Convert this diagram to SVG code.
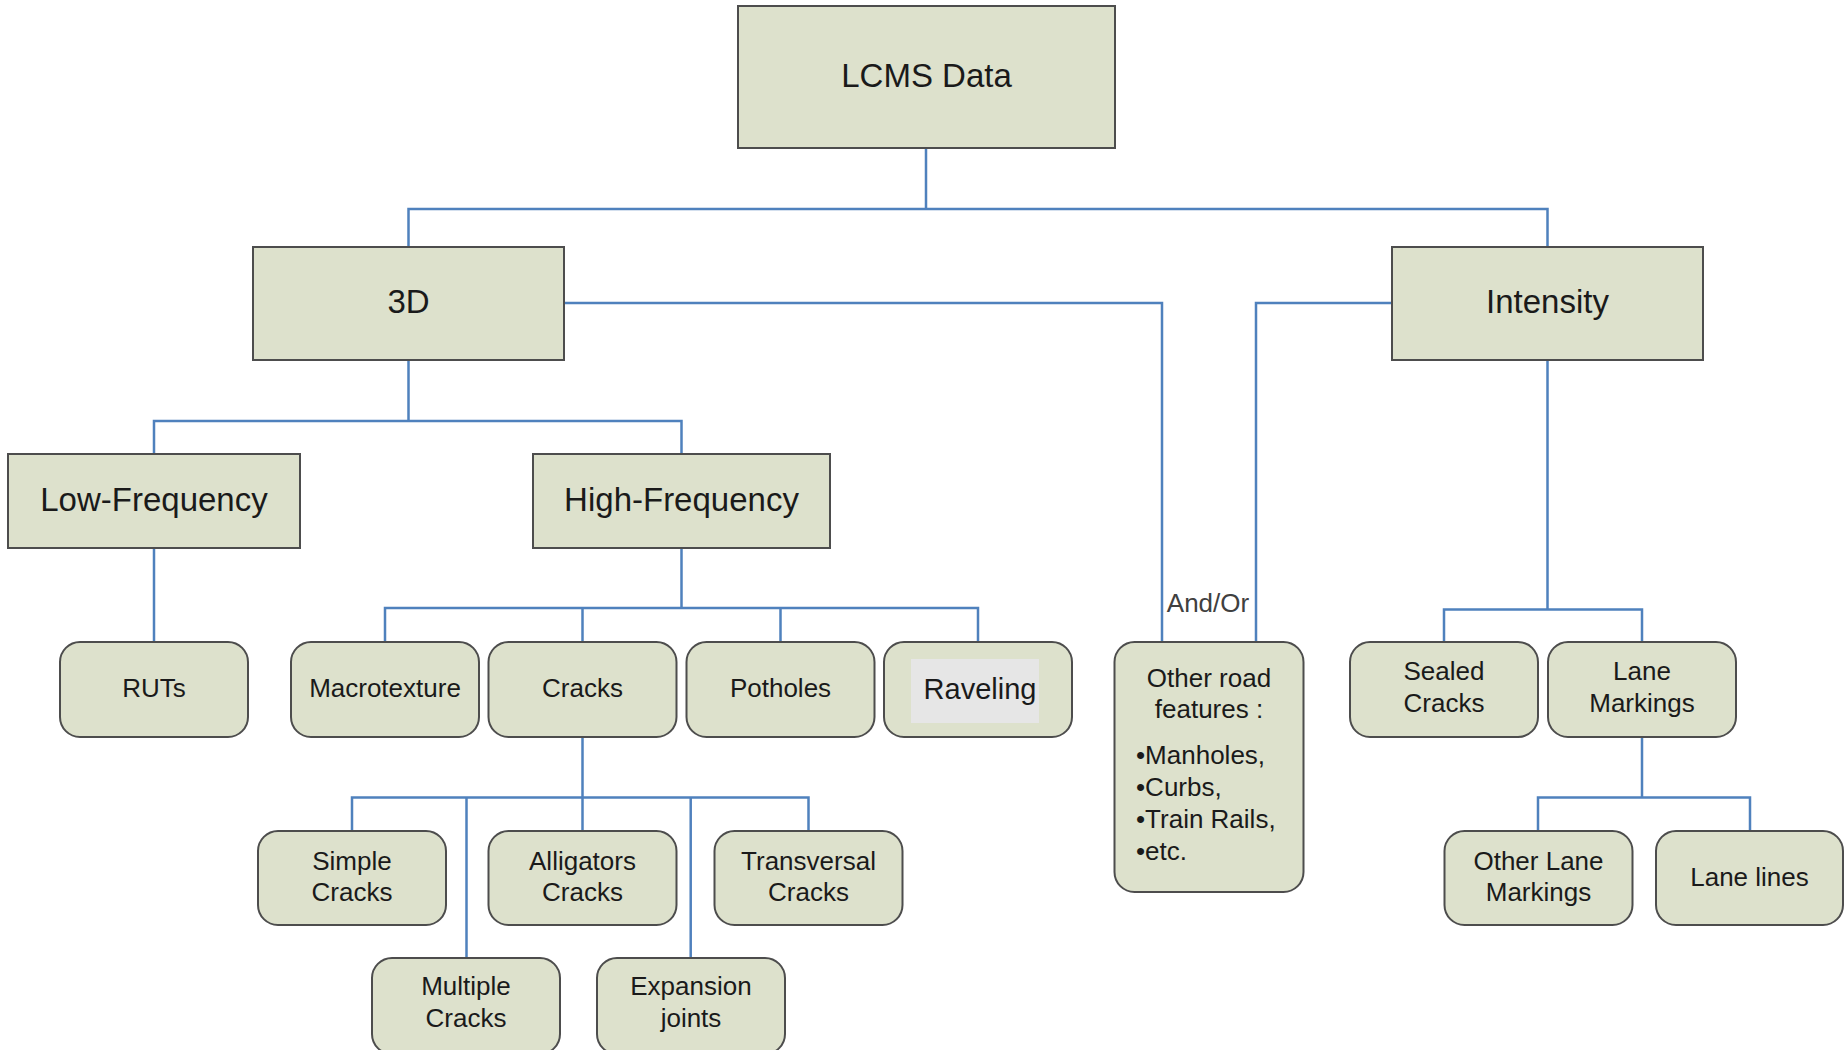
<svg xmlns="http://www.w3.org/2000/svg" width="1845" height="1050" viewBox="0 0 1845 1050">
<style>
.sq{fill:#dde1cc;stroke:#4d4d4d;stroke-width:2}
.rd{fill:#dde1cc;stroke:#4d4d4d;stroke-width:2}
.t{font-family:"Liberation Sans",Arial,sans-serif;fill:#1a1a1a;text-anchor:middle}
.big{font-size:33px}
.sm{font-size:26px}
.con{fill:none;stroke:#4f81bd;stroke-width:2.5}
</style>
<rect width="1845" height="1050" fill="#ffffff"/>
<g id="connectors" class="con">
<path d="M926 148V209M408.5 247V209H1547.5V247"/>
<path d="M564 303H1162V642"/>
<path d="M1392 303H1256V642"/>
<path d="M408.5 360V421M154 454V421H681.5V454"/>
<path d="M154 548V642"/>
<path d="M681.5 548V608M385 642V608H978V642M582.5 608V642M780.5 608V642"/>
<path d="M582.5 737V797.5M352 831V797.5H808.5V831M466.5 797.5V958M582.5 797.5V831M690.7 797.5V958"/>
<path d="M1547.5 360V609.5M1444 642V609.5H1642V642"/>
<path d="M1642 737V797.5M1538 831V797.5H1750V831"/>
<text x="1208" y="612" style="font-family:'Liberation Sans',Arial,sans-serif;font-size:26px;fill:#404040;stroke:none;text-anchor:middle">And/Or</text>
</g>
<g id="lcms"><rect class="sq" x="738" y="6" width="377" height="142"/><text class="t big" x="926.5" y="87">LCMS Data</text></g>
<g id="n3d"><rect class="sq" x="253" y="247" width="311" height="113"/><text class="t big" x="408.5" y="313">3D</text></g>
<g id="intensity"><rect class="sq" x="1392" y="247" width="311" height="113"/><text class="t big" x="1547.5" y="313">Intensity</text></g>
<g id="lowfreq"><rect class="sq" x="8" y="454" width="292" height="94"/><text class="t big" x="154" y="511">Low-Frequency</text></g>
<g id="highfreq"><rect class="sq" x="533" y="454" width="297" height="94"/><text class="t big" x="681.5" y="511">High-Frequency</text></g>
<g id="ruts"><rect class="rd" x="60" y="642" width="188" height="95" rx="20"/><text class="t sm" x="154" y="697">RUTs</text></g>
<g id="macrotexture"><rect class="rd" x="291" y="642" width="188" height="95" rx="20"/><text class="t sm" x="385" y="697">Macrotexture</text></g>
<g id="cracks"><rect class="rd" x="488.5" y="642" width="188" height="95" rx="20"/><text class="t sm" x="582.5" y="697">Cracks</text></g>
<g id="potholes"><rect class="rd" x="686.5" y="642" width="188" height="95" rx="20"/><text class="t sm" x="780.5" y="697">Potholes</text></g>
<g id="raveling"><rect class="rd" x="884" y="642" width="188" height="95" rx="20"/><rect x="911" y="659" width="128" height="64" fill="#e6e6e6"/><text class="t" style="font-size:29px" x="980" y="699">Raveling</text></g>
<g id="otherroad"><rect class="rd" x="1114.5" y="642" width="189" height="250" rx="20"/>
<text class="t sm" x="1209" y="687">Other road</text><text class="t sm" x="1209" y="718">features :</text>
<text class="t sm" style="text-anchor:start" x="1136"><tspan x="1136" y="764">•Manholes,</tspan><tspan x="1136" y="796">•Curbs,</tspan><tspan x="1136" y="828">•Train Rails,</tspan><tspan x="1136" y="860">•etc.</tspan></text></g>
<g id="sealed"><rect class="rd" x="1350" y="642" width="188" height="95" rx="20"/><text class="t sm" x="1444" y="680">Sealed</text><text class="t sm" x="1444" y="712">Cracks</text></g>
<g id="lanemarkings"><rect class="rd" x="1548" y="642" width="188" height="95" rx="20"/><text class="t sm" x="1642" y="680">Lane</text><text class="t sm" x="1642" y="712">Markings</text></g>
<g id="simple"><rect class="rd" x="258" y="831" width="188" height="94" rx="20"/><text class="t sm" x="352" y="870">Simple</text><text class="t sm" x="352" y="901">Cracks</text></g>
<g id="alligators"><rect class="rd" x="488.5" y="831" width="188" height="94" rx="20"/><text class="t sm" x="582.5" y="870">Alligators</text><text class="t sm" x="582.5" y="901">Cracks</text></g>
<g id="transversal"><rect class="rd" x="714.5" y="831" width="188" height="94" rx="20"/><text class="t sm" x="808.5" y="870">Transversal</text><text class="t sm" x="808.5" y="901">Cracks</text></g>
<g id="multiple"><rect class="rd" x="372" y="958" width="188" height="96" rx="20"/><text class="t sm" x="466" y="995">Multiple</text><text class="t sm" x="466" y="1027">Cracks</text></g>
<g id="expansion"><rect class="rd" x="597" y="958" width="188" height="96" rx="20"/><text class="t sm" x="691" y="995">Expansion</text><text class="t sm" x="691" y="1027">joints</text></g>
<g id="otherlane"><rect class="rd" x="1444.5" y="831" width="188" height="94" rx="20"/><text class="t sm" x="1538.5" y="870">Other Lane</text><text class="t sm" x="1538.5" y="901">Markings</text></g>
<g id="lanelines"><rect class="rd" x="1656" y="831" width="187" height="94" rx="20"/><text class="t sm" x="1749.5" y="886">Lane lines</text></g>
</svg>
